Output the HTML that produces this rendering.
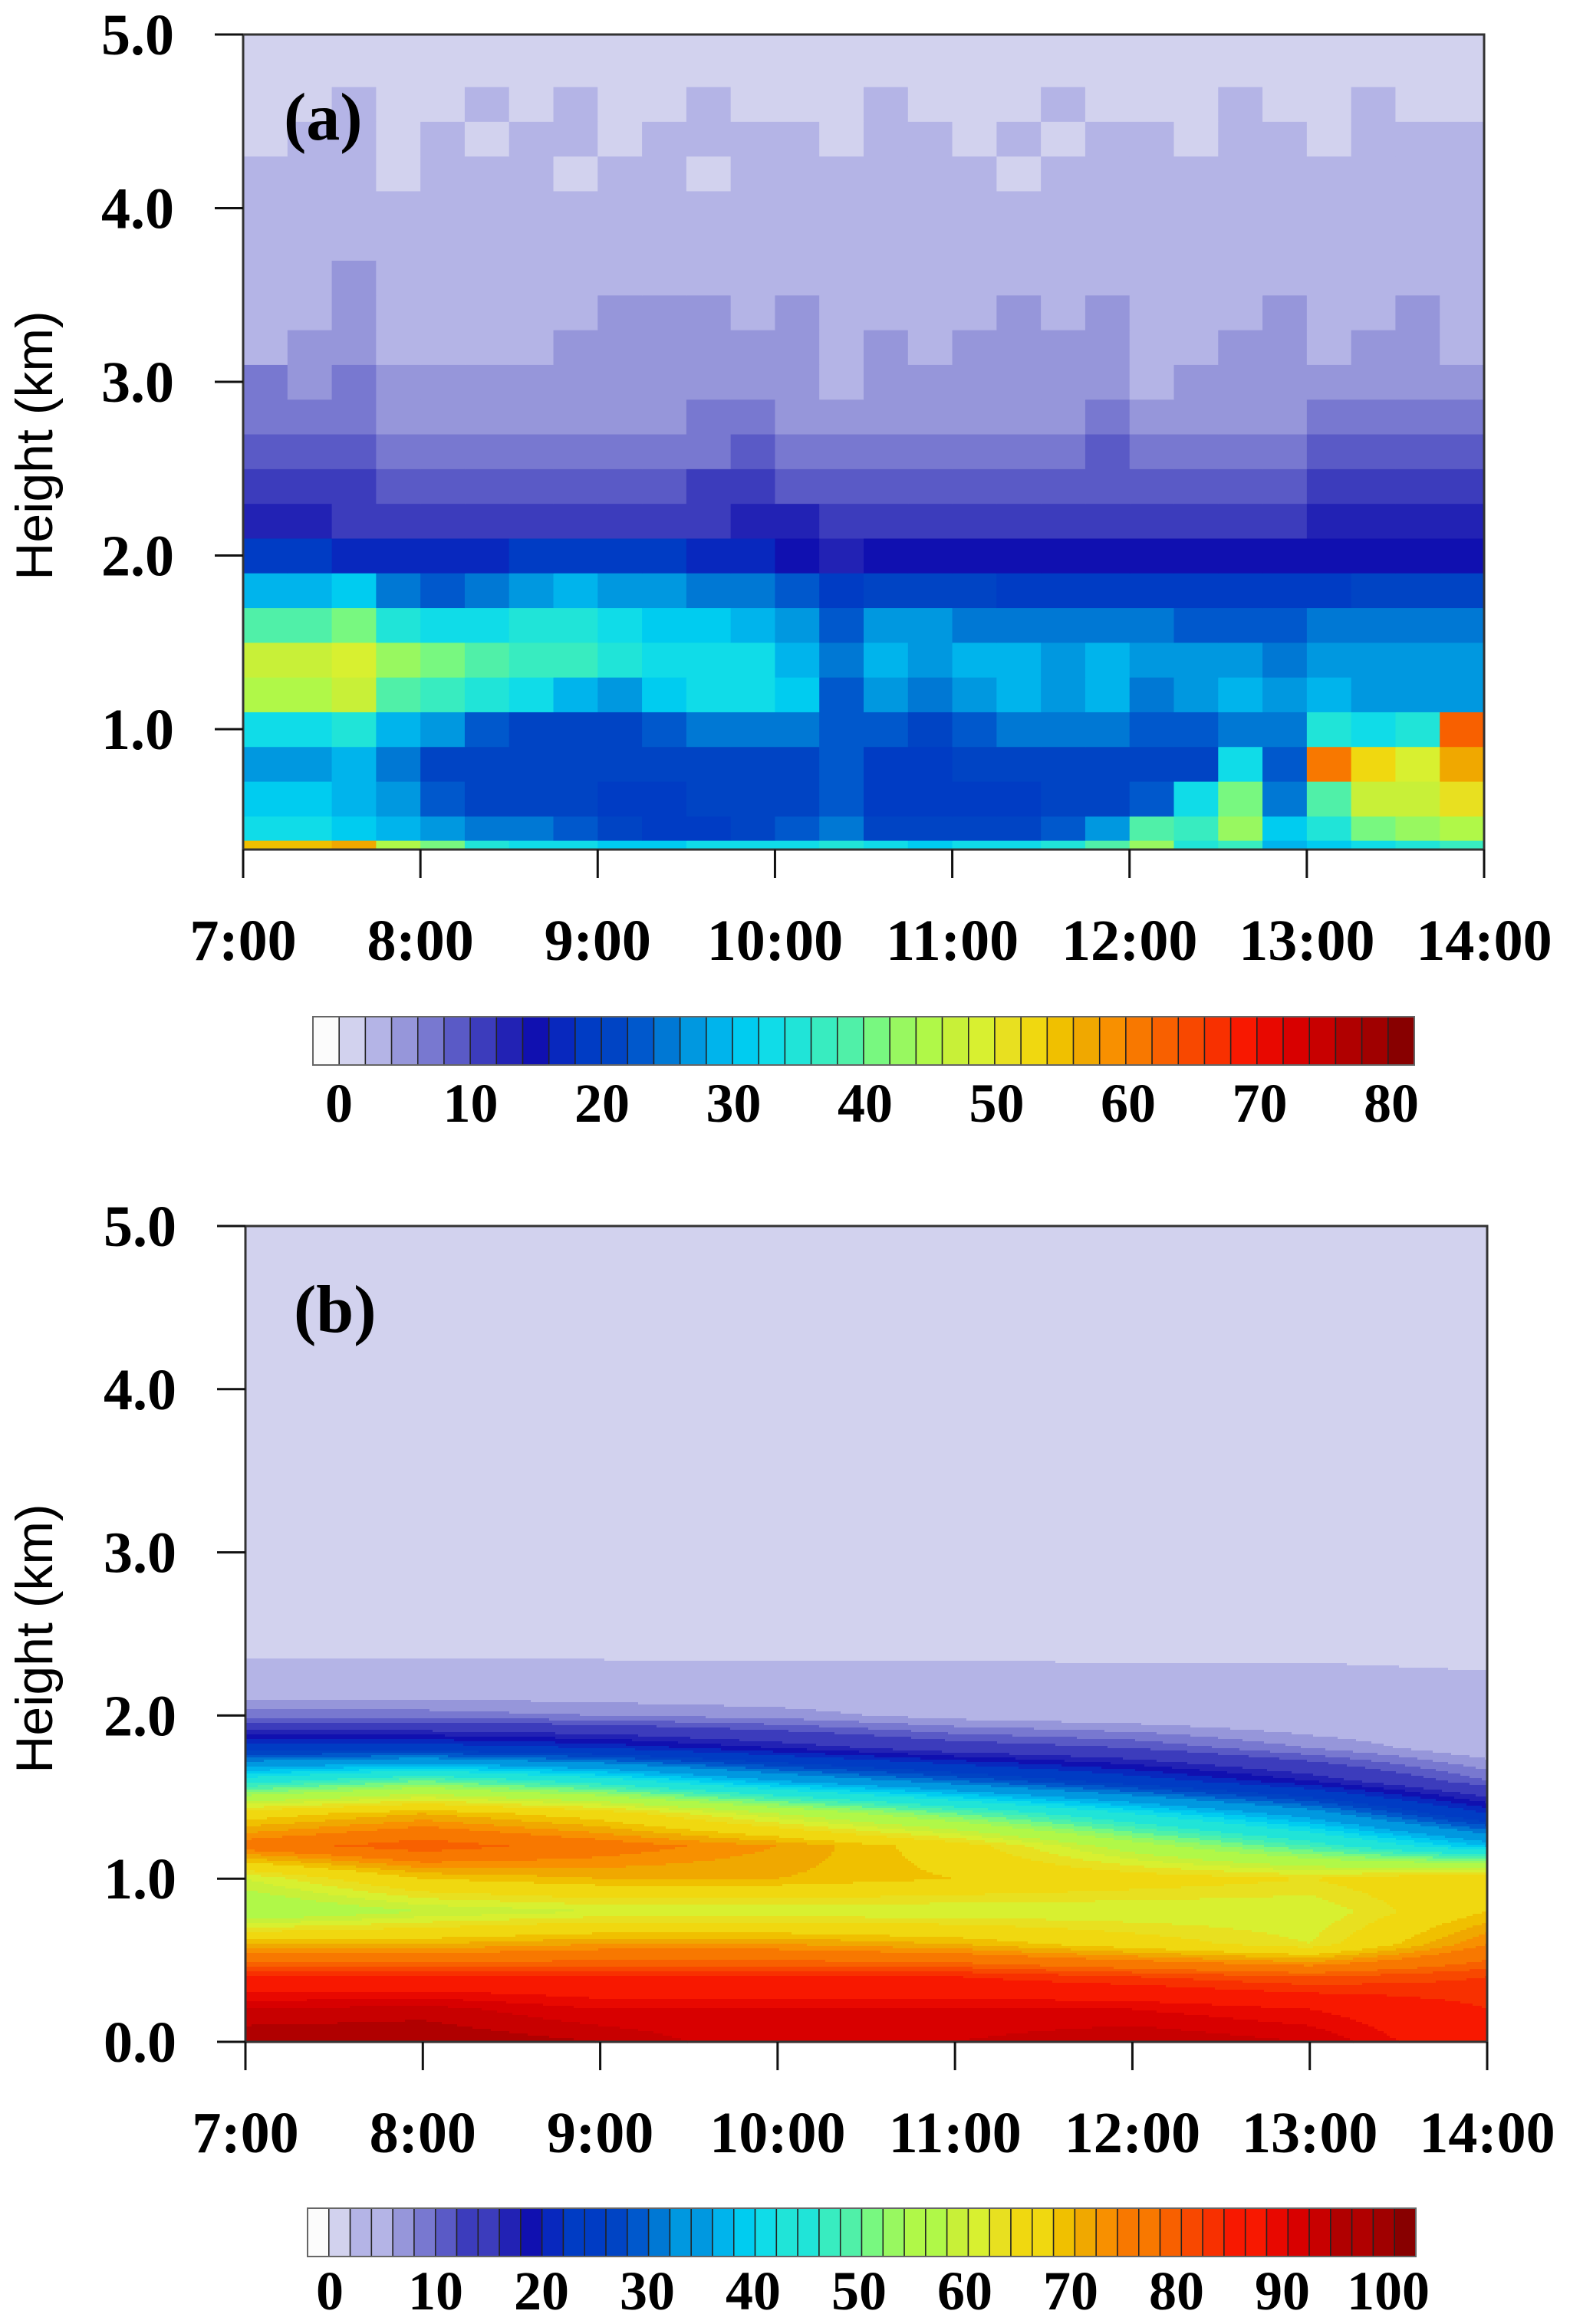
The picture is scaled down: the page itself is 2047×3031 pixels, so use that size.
<!DOCTYPE html>
<html><head><meta charset="utf-8"><style>
html,body{margin:0;padding:0;background:#fff;}
svg{display:block;}
text{font-family:"Liberation Serif",serif;font-weight:bold;fill:#000;}
.yt{font-family:"Liberation Sans",sans-serif;font-weight:normal;}
</style></head><body>
<svg id="fig" width="2047" height="3031" viewBox="0 0 2047 3031" xmlns="http://www.w3.org/2000/svg">
<rect width="2047" height="3031" fill="#fff"/>
<g id="pa"></g>
<g id="pb"></g>
</svg>
<script>
// ---------- Panel (a) data: observed values, 15-min columns 7:00-14:00, rows by height ----------
const timesA = [7,7.25,7.5,7.75,8,8.25,8.5,8.75,9,9.25,9.5,9.75,10,10.25,10.5,10.75,11,11.25,11.5,11.75,12,12.25,12.5,12.75,13,13.25,13.5,13.75,14];
const heightEdgesA = [0.296,0.36,0.5,0.7,0.9,1.1,1.3,1.5,1.7,1.9,2.1,2.3,2.5,2.7,2.9,3.1,3.3,3.5,3.7,3.9,4.1,4.3,4.5,4.7,5.0];
const valuesA = [
[55,55,57,45,41,35,33,33,31,31,33,33,33,35,33,31,33,33,35,39,43,35,37,29,31,33,35,37],
[33,33,31,29,27,25,25,23,21,19,19,21,23,25,21,21,21,21,23,27,39,37,43,31,35,41,43,45],
[31,31,29,27,23,21,21,21,19,19,21,21,21,23,19,19,19,19,21,21,23,33,41,25,39,47,47,51],
[27,27,29,25,21,21,21,21,21,21,21,21,21,23,19,19,21,21,21,21,21,21,33,23,61,53,49,57],
[33,33,35,29,27,23,21,21,21,23,25,25,25,23,23,21,23,25,25,25,23,23,25,25,35,33,35,63],
[45,45,47,39,37,35,33,29,27,31,33,33,31,23,27,25,27,29,27,29,25,27,29,27,29,27,27,27],
[47,47,49,43,41,39,37,37,35,33,33,33,29,25,29,27,29,29,27,29,27,27,27,25,27,27,27,27],
[39,39,41,35,33,33,35,35,33,31,31,29,27,23,27,27,25,25,25,25,25,23,23,23,25,25,25,25],
[29,29,31,25,23,25,27,29,27,27,25,25,23,19,21,21,21,19,19,19,19,19,19,19,19,21,21,21],
[19,19,17,17,17,17,19,19,19,19,17,17,15,13,15,15,15,15,15,15,15,15,15,15,15,15,15,15],
[13,13,11,11,11,11,11,11,11,11,11,13,13,11,11,11,11,11,11,11,11,11,11,11,13,13,13,13],
[11,11,11,9,9,9,9,9,9,9,11,11,9,9,9,9,9,9,9,9,9,9,9,9,11,11,11,11],
[9,9,9,7,7,7,7,7,7,7,7,9,7,7,7,7,7,7,7,9,7,7,7,7,9,9,9,9],
[7,7,7,5,5,5,5,5,5,5,7,7,5,5,5,5,5,5,5,7,5,5,5,5,7,7,7,7],
[7,5,7,5,5,5,5,5,5,5,5,5,5,3,5,5,5,5,5,5,3,5,5,5,5,5,5,5],
[3,5,5,3,3,3,3,5,5,5,5,5,5,3,5,3,5,5,5,5,3,3,5,5,3,5,5,3],
[3,3,5,3,3,3,3,3,5,5,5,3,5,3,3,3,3,5,3,5,3,3,3,5,3,3,5,3],
[3,3,5,3,3,3,3,3,3,3,3,3,3,3,3,3,3,3,3,3,3,3,3,3,3,3,3,3],
[3,3,3,3,3,3,3,3,3,3,3,3,3,3,3,3,3,3,3,3,3,3,3,3,3,3,3,3],
[3,3,3,3,3,3,3,3,3,3,3,3,3,3,3,3,3,3,3,3,3,3,3,3,3,3,3,3],
[3,3,3,1,3,3,3,1,3,3,1,3,3,3,3,3,3,1,3,3,3,3,3,3,3,3,3,3],
[1,3,3,1,3,1,3,3,1,3,3,3,3,1,3,3,1,3,1,3,3,1,3,3,1,3,3,3],
[1,1,3,1,1,3,1,3,1,1,3,1,1,1,3,1,1,1,3,1,1,1,3,1,1,3,1,1],
[1,1,1,1,1,1,1,1,1,1,1,1,1,1,1,1,1,1,1,1,1,1,1,1,1,1,1,1]
];
// ---------- Panel (b) data: modelled values at hourly columns ----------
const timesB = [7,8,9,10,11,12,13,14];
const heightsB = [0,0.2,0.4,0.6,0.8,1.0,1.2,1.4,1.6,1.8,2.0,2.2,2.4,2.6,5.0];
const valuesB = [
[96,96,94,90,92,94,92,84],
[92,93,90,90,90,90,88,84],
[84,84,84,84,84,82,80,82],
[70,70,72,72,70,66,62,74],
[54,58,60,60,60,60,60,68],
[60,68,70,70,68,66,64,68],
[76,80,76,72,66,56,48,38],
[66,70,66,58,50,42,34,22],
[44,50,44,36,30,24,18,10],
[24,24,22,18,14,12,8,4],
[9,9,8,7,5,4,3,3],
[3,3,3,3,3,3,3,2.6],
[1.6,1.6,1.6,1.5,1.5,1.4,1.4,1.0],
[1,1,1,1,1,1,1,1],
[1,1,1,1,1,1,1,1]
];
// tick labels
const yTicksA = [1,2,3,4,5];
const yTicksB = [0,1,2,3,4,5];
const xTickHours = [7,8,9,10,11,12,13,14];
const xTickLabels = ["7:00","8:00","9:00","10:00","11:00","12:00","13:00","14:00"];
const cbLabelsA = [0,10,20,30,40,50,60,70,80];
const cbLabelsB = [0,10,20,30,40,50,60,70,80,90,100];

const anchors = ["#fcfcfc","#d2d2ee","#b4b4e6","#9696da","#7878d0","#5a5ac6","#3c3cbc","#2222b4","#1010b0","#0828be","#003cc4","#0044c4","#0058cc","#0078d4","#0098e0","#00b4ec","#00ccf0","#10dce8","#20e4d8","#38ecc0","#50f0a8","#78f880","#98f860","#b0f848","#c8f038","#d8f030","#e8e020","#f0d810","#f0c000","#f0a800","#f89000","#f87800","#f86000","#f84800","#f83000","#f81800","#e80800","#d80000","#c80000","#b00000","#a00000","#880000"];
function cellColor(i,n){return anchors[Math.round(i/(n-1)*(anchors.length-1))];}
function colorFor(v,n){let i=Math.floor((v+2)/2);if(i<0)i=0;if(i>n-1)i=n-1;return cellColor(i,n);}

const NS="http://www.w3.org/2000/svg";
function mk(tag,attrs,parent){const e=document.createElementNS(NS,tag);for(const k in attrs)e.setAttribute(k,attrs[k]);parent.appendChild(e);return e;}

function drawAxes(g,P,yTicks,yFmt,tickLabelY,labelText,labelX,labelY){
  const f=mk('rect',{x:P.l,y:P.t,width:P.r-P.l,height:P.b-P.t,fill:'none',stroke:'#333','stroke-width':3},g);
  
  
  yTicks.forEach(v=>{
    const y=P.ys(v);
    const t=mk('line',{x1:P.l-37,x2:P.l,y1:y,y2:y,stroke:'#111','stroke-width':3},g);
    
    
    const tx=mk('text',{x:P.l-90,y:y+26,'text-anchor':'end','font-size':76},g);
    tx.textContent=v.toFixed(1);
    
    
  });
  xTickHours.forEach((h,i)=>{
    const x=P.xs(h);
    const t=mk('line',{x1:x,x2:x,y1:P.b,y2:P.b+37,stroke:'#111','stroke-width':3},g);
    
    
    const tx=mk('text',{x:x,y:tickLabelY,'text-anchor':'middle','font-size':76},g);
    tx.textContent=xTickLabels[i];
    
    
  });
  const yt=mk('text',{x:0,y:0,'text-anchor':'middle','font-size':68,'class':'yt',transform:'translate(68,'+P.ymid+') rotate(-90)'},g);
  yt.textContent='Height (km)';
  
  
  const pl=mk('text',{x:labelX,y:labelY,'font-size':88},g);
  pl.textContent=labelText;
  
  
}

function drawColorbar(g,x0,x1,y0,y1,n,labels,pxPerUnit,zeroX,labelY){
  const w=(x1-x0)/n;
  for(let i=0;i<n;i++){
    const r=mk('rect',{x:x0+i*w,y:y0,width:w,height:y1-y0,fill:cellColor(i,n),stroke:'#222','stroke-width':1.5},g);
    
    
  }
  const b=mk('rect',{x:x0,y:y0,width:x1-x0,height:y1-y0,fill:'none',stroke:'#666','stroke-width':2},g);
  
  
  labels.forEach(v=>{
    const t=mk('text',{x:zeroX+v*pxPerUnit,y:labelY,'text-anchor':'middle','font-size':72},g);
    t.textContent=v;
    
    
  });
}

// ---------- Panel A ----------
(function(){
  const g=document.getElementById('pa');
  const P={l:317,r:1935,t:45,b:1108};
  P.xs=h=>P.l+(h-7)/7*(P.r-P.l);
  P.ys=km=>P.t+(5-km)*226.5;
  P.ymid=581;
  const hm=mk('g',{},g);
  
  
  for(let r=0;r<valuesA.length;r++){
    const y0=Math.max(P.ys(heightEdgesA[r+1]),P.t), y1=Math.min(P.ys(heightEdgesA[r]),P.b);
    for(let c=0;c<valuesA[r].length;c++){
      const x0=P.xs(timesA[c]),x1=P.xs(timesA[c+1]);
      const rc=mk('rect',{x:x0,y:y0,width:x1-x0+0.6,height:y1-y0+0.6,fill:colorFor(valuesA[r][c],42)},hm);
      
      
    }
  }
  drawAxes(g,P,yTicksA,null,1252,'(a)',370,182);
  const cb=mk('g',{},g);
  
  
  drawColorbar(cb,408,1844,1326,1389,42,cbLabelsA,17.15,442,1463);
})();

// ---------- Panel B ----------
(function(){
  const g=document.getElementById('pb');
  const P={l:320,r:1939,t:1599,b:2663};
  P.xs=h=>P.l+(h-7)/7*(P.r-P.l);
  P.ys=km=>P.b-km*(P.b-P.t)/5;
  P.ymid=2137;
  function val(h,km){
    let ci=0;while(ci<timesB.length-2&&h>timesB[ci+1])ci++;
    let ri=0;while(ri<heightsB.length-2&&km>heightsB[ri+1])ri++;
    const tx=(h-timesB[ci])/(timesB[ci+1]-timesB[ci]);
    const ty=(km-heightsB[ri])/(heightsB[ri+1]-heightsB[ri]);
    const a=valuesB[ri][ci],b=valuesB[ri][ci+1],c=valuesB[ri+1][ci],d=valuesB[ri+1][ci+1];
    return (a*(1-tx)+b*tx)*(1-ty)+(c*(1-tx)+d*tx)*ty;
  }
  const hm=mk('g',{},g);
  
  
  const dy=3,dx=4;
  for(let y=P.t;y<P.b;y+=dy){
    const km=(P.b-(y+dy/2))/(P.b-P.t)*5;
    let runStart=P.l,runCol=null;
    for(let x=P.l;x<=P.r;x+=dx){
      const h=7+(Math.min(x+dx/2,P.r)-P.l)/(P.r-P.l)*7;
      const col=x<P.r?colorFor(val(h,km),52):null;
      if(col!==runCol){
        if(runCol){
          const rc=mk('rect',{x:runStart,y:y,width:Math.min(x,P.r)-runStart+0.6,height:dy+0.6,fill:runCol},hm);
          
          
        }
        runStart=x;runCol=col;
      }
    }
    if(runCol){
      const rc=mk('rect',{x:runStart,y:y,width:P.r-runStart,height:dy+0.6,fill:runCol},hm);
      
      
    }
  }
  drawAxes(g,P,yTicksB,null,2807,'(b)',383,1737);
  const cb=mk('g',{},g);
  
  
  drawColorbar(cb,401,1846,2880,2943,52,cbLabelsB,13.8,430,3012);
})();
</script>
</body></html>
